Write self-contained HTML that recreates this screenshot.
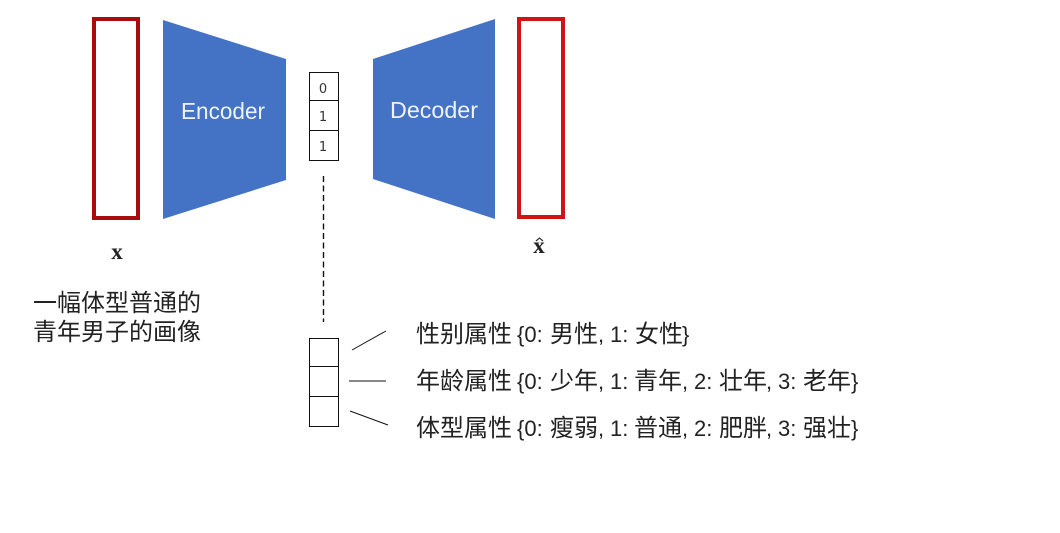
<!DOCTYPE html>
<html><head><meta charset="utf-8">
<style>
html,body{margin:0;padding:0;background:#fff;width:1060px;height:533px;overflow:hidden}
svg{display:block}
.c{font-family:"Liberation Sans","Noto Sans CJK SC",sans-serif;font-size:24px;fill:#222}
.l{font-family:"Liberation Sans",sans-serif;font-size:22px;fill:#222}
.w{font-family:"Liberation Sans","Noto Sans CJK SC",sans-serif;font-size:23px;fill:#eef2fa}
.n{font-family:"DejaVu Sans",sans-serif;font-size:13px;fill:#333;text-anchor:middle}
.m{font-family:"Liberation Serif",serif;font-size:23px;font-weight:bold;fill:#222;text-anchor:middle}
</style></head><body>
<svg width="1060" height="533" viewBox="0 0 1060 533" xmlns="http://www.w3.org/2000/svg">
<rect width="1060" height="533" fill="#fff"/>
<rect x="94" y="19" width="44" height="199" fill="#fff" stroke="#a80c0c" stroke-width="4"/>
<rect x="519" y="19" width="44" height="198" fill="#fff" stroke="#d01414" stroke-width="4"/>
<polygon points="163,20 286,59 286,180 163,219" fill="#4472c4"/>
<polygon points="373,59 495,19 495,219 373,179" fill="#4472c4"/>
<text class="w" x="181" y="119" textLength="84" lengthAdjust="spacingAndGlyphs">Encoder</text>
<text class="w" x="390" y="118" textLength="88" lengthAdjust="spacingAndGlyphs">Decoder</text>
<g fill="none" stroke="#111" stroke-width="1">
<rect x="309.5" y="72.5" width="29" height="88"/>
<path d="M309.5 100.5H338.5M309.5 130.5H338.5"/>
<rect x="309.5" y="338.5" width="29" height="88"/>
<path d="M309.5 366.5H338.5M309.5 396.5H338.5"/>
<path d="M352 350L386 331M349 381H386M350 411L388 425"/>
<path d="M323.5 176V322" stroke-dasharray="6 3.5" stroke-width="1.4"/>
<path d="M536 241L539.5 238L543 241" stroke="#333" stroke-width="1.2"/>
</g>
<text class="n" x="323" y="93">0</text>
<text class="n" x="323" y="121">1</text>
<text class="n" x="323" y="151">1</text>
<text class="m" x="117" y="259">x</text>
<text class="m" x="539" y="253">x</text>
<text class="c" x="33" y="311">一幅体型普通的</text>
<text class="c" x="33" y="340">青年男子的画像</text>

<text class="c" x="416" y="342">性别属性</text>
<text class="l" x="517" y="342">{0:</text>
<text class="c" x="550" y="342">男性</text>
<text class="l" x="598" y="342">,</text>
<text class="l" x="610" y="342">1:</text>
<text class="c" x="635" y="342">女性</text>
<text class="l" x="682" y="342">}</text>

<text class="c" x="416" y="389">年龄属性</text>
<text class="l" x="517" y="389">{0:</text>
<text class="c" x="550" y="389">少年</text>
<text class="l" x="598" y="389">,</text>
<text class="l" x="610" y="389">1:</text>
<text class="c" x="634" y="389">青年</text>
<text class="l" x="682" y="389">,</text>
<text class="l" x="694" y="389">2:</text>
<text class="c" x="719" y="389">壮年</text>
<text class="l" x="766" y="389">,</text>
<text class="l" x="778" y="389">3:</text>
<text class="c" x="803" y="389">老年</text>
<text class="l" x="851" y="389">}</text>

<text class="c" x="416" y="436">体型属性</text>
<text class="l" x="517" y="436">{0:</text>
<text class="c" x="550" y="436">瘦弱</text>
<text class="l" x="598" y="436">,</text>
<text class="l" x="610" y="436">1:</text>
<text class="c" x="634" y="436">普通</text>
<text class="l" x="682" y="436">,</text>
<text class="l" x="694" y="436">2:</text>
<text class="c" x="719" y="436">肥胖</text>
<text class="l" x="766" y="436">,</text>
<text class="l" x="778" y="436">3:</text>
<text class="c" x="803" y="436">强壮</text>
<text class="l" x="851" y="436">}</text>
</svg>
</body></html>
